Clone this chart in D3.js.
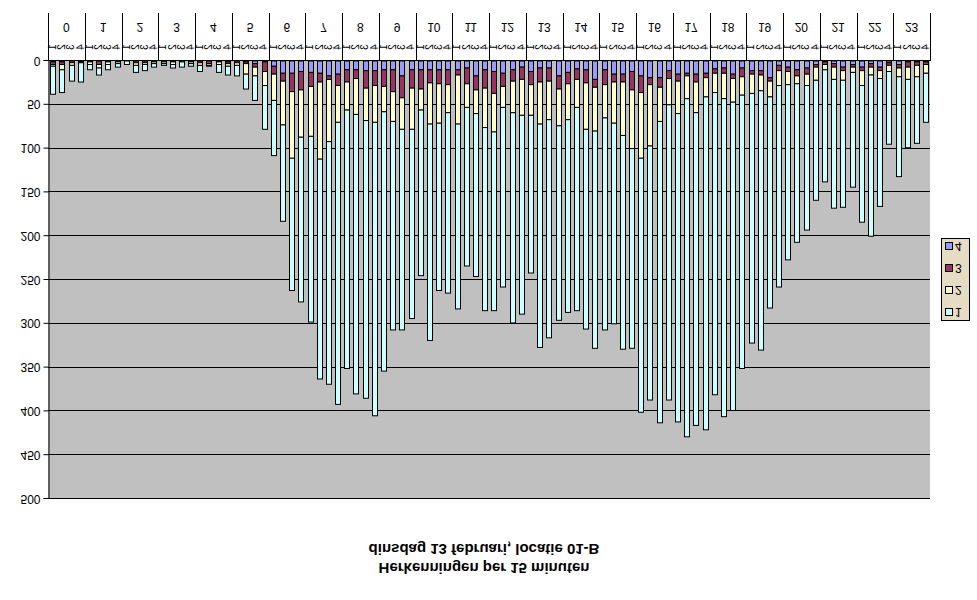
<!DOCTYPE html>
<html>
<head>
<meta charset="utf-8">
<script src="https://cdn.jsdelivr.net/npm/d3@7"></script>
<style>
  html, body { margin: 0; padding: 0; background: #fff; }
  svg { display: block; font-family: "Liberation Sans", Arial, sans-serif; }
</style>
</head>
<body>
<svg id="chart" width="977" height="600"></svg>
<script>
// ---- data ----
const hourLabels = ["0","1","2","3","4","5","6","7","8","9","10","11","12","13","14","15","16","17","18","19","20","21","22","23"];
const quarterLabels = ["1","2","3","4"];
const seriesNames = ["1","2","3","4"];
const yTicks = [0,50,100,150,200,250,300,350,400,450,500];

const s1 = [32,26,18,22,6,8,6,4,4,8,7,4,2,4,6,3,7,1,9,10,12,17,28,50,
            63,110,151,188,212,251,277,322,295,319,317,335,296,238,229,216,189,247,191,206,211,181,186,209,
            204,205,240,227,180,255,249,222,220,232,228,248,242,229,244,228,290,290,344,337,352,386,357,380,
            345,363,352,312,285,296,241,230,200,181,165,137,128,147,145,131,156,184,146,83,114,78,76,56];
const s2 = [2,6,3,1,3,4,3,2,0,3,2,2,2,3,1,2,3,2,3,3,3,12,10,16,
            30,50,76,54,57,88,71,42,32,41,37,42,29,34,36,47,24,47,45,32,56,27,27,45,
            44,24,36,41,35,48,44,42,41,32,53,50,38,47,61,67,75,70,39,30,37,26,35,22,
            22,29,27,21,22,18,18,17,15,9,13,15,6,14,11,6,17,9,9,7,10,14,13,10];
const s3 = [3,3,2,1,1,4,1,1,0,2,2,1,1,1,0,1,2,3,1,2,2,2,4,11,
            9,9,21,21,16,10,4,13,14,10,20,17,19,25,25,21,22,15,16,17,6,18,16,21,
            25,15,13,14,15,16,15,15,13,12,15,9,17,9,9,21,19,8,11,9,8,3,9,5,
            5,6,5,10,4,5,4,6,5,7,7,3,3,4,4,3,4,4,4,3,4,6,4,3];
const s4 = [1,1,0,0,0,0,0,0,0,0,0,0,0,0,0,0,0,0,0,1,0,1,3,1,
            6,14,14,12,13,14,17,15,10,10,11,11,10,10,17,10,10,10,10,10,10,8,17,10,
            12,14,10,7,12,8,8,17,13,9,10,21,10,15,15,12,17,19,19,11,15,14,15,14,
            9,8,15,8,11,11,19,5,7,10,8,4,1,3,7,4,7,3,7,2,4,1,1,1];

const colors = {"1":"#ccffff","2":"#ffffcc","3":"#993366","4":"#9999ff"};

(function () {
  // ---- build table ----
  const cats = [];
  hourLabels.forEach((h, hi) => quarterLabels.forEach((q, qi) => cats.push({key: h + "-" + q, hour: h, q: q, i: hi*4+qi})));
  const table = cats.map((c, i) => ({key: c.key, "1": s1[i], "2": s2[i], "3": s3[i], "4": s4[i]}));

  // ---- layout (drawn upright, then the whole picture is flipped vertically) ----
  const W = 977, H = 600;
  const pLeft = 48, pRight = 930, pTop = 101, pBottom = 539;

  const svg = d3.select("#chart");
  svg.append("rect").attr("width", W).attr("height", H).attr("fill", "#fff");
  const g = svg.append("g").attr("transform", `translate(0,${H}) scale(1,-1)`);

  const x = d3.scaleBand().domain(cats.map(c => c.key)).range([pLeft, pRight]).paddingInner(0.5).paddingOuter(0.25);
  const y = d3.scaleLinear().domain([0, 500]).range([pBottom, pTop]);

  // plot background
  g.append("rect").attr("x", pLeft).attr("y", pTop).attr("width", pRight - pLeft).attr("height", pBottom - pTop).attr("fill", "#c0c0c0");

  // gridlines
  g.append("g").selectAll("line").data(yTicks).join("line")
    .attr("x1", pLeft).attr("x2", pRight)
    .attr("y1", d => Math.round(y(d)) + 0.5).attr("y2", d => Math.round(y(d)) + 0.5)
    .attr("stroke", "#000").attr("stroke-width", 1);

  // stacked bars: series 4 next to the axis, then 3, 2, 1
  const stack = d3.stack().keys(["4","3","2","1"]);
  const layers = stack(table);
  g.append("g").selectAll("g").data(layers).join("g")
    .attr("fill", d => colors[d.key])
    .selectAll("rect").data(d => d).join("rect")
    .attr("x", d => Math.round(x(d.data.key)) + 0.5)
    .attr("width", Math.round(x.bandwidth()))
    .attr("y", d => y(d[1]))
    .attr("height", d => Math.max(0, y(d[0]) - y(d[1])))
    .attr("stroke", "#000").attr("stroke-width", 1);

  // value axis
  const yAxis = g.append("g").attr("transform", `translate(${pLeft + 0.5},0)`)
    .call(d3.axisLeft(y).tickValues(yTicks).tickSize(5).tickPadding(3));
  yAxis.select(".domain").attr("stroke", "#000");
  yAxis.selectAll("text").attr("font-size", 12).attr("font-family", "Liberation Sans, Arial, sans-serif").attr("fill", "#000");

  // category axis line
  g.append("line").attr("x1", pLeft).attr("x2", pRight).attr("y1", pBottom + 0.5).attr("y2", pBottom + 0.5).attr("stroke", "#000");

  // hour group separators
  const step = x.step();
  const sepX = d3.range(0, 25).map(i => pLeft + i * 4 * step);
  g.append("g").selectAll("line").data(sepX).join("line")
    .attr("x1", d => Math.round(d) + 0.5).attr("x2", d => Math.round(d) + 0.5)
    .attr("y1", pBottom).attr("y2", 587)
    .attr("stroke", "#000");

  // quarter labels (rotated)
  g.append("g").selectAll("text").data(cats).join("text")
    .attr("transform", d => `translate(${x(d.key) + x.bandwidth() / 2},553) rotate(-90)`)
    .attr("text-anchor", "middle").attr("dy", "0.35em")
    .attr("font-size", 10).attr("fill", "#000")
    .text(d => d.q);

  // hour labels
  g.append("g").selectAll("text").data(hourLabels).join("text")
    .attr("x", (d, i) => pLeft + (i * 4 + 2) * step)
    .attr("y", 573).attr("dy", "0.35em")
    .attr("text-anchor", "middle").attr("font-size", 12).attr("fill", "#000")
    .text(d => d);

  // legend
  const lg = g.append("g");
  lg.append("rect").attr("x", 941.5).attr("y", 279.5).attr("width", 28).attr("height", 82)
    .attr("fill", "#e6dcc3").attr("stroke", "#000");
  seriesNames.forEach((s, i) => {
    const cy = 288 + i * 22;
    lg.append("rect").attr("x", 945.5).attr("y", cy - 3.5).attr("width", 7).attr("height", 7)
      .attr("fill", colors[s]).attr("stroke", "#000");
    lg.append("text").attr("x", 955).attr("y", cy).attr("dy", "0.35em")
      .attr("font-size", 12).attr("fill", "#000").text(s);
  });

  // titles
  g.append("text").attr("x", 484).attr("y", 32).attr("dy", "0.35em").attr("text-anchor", "middle")
    .attr("font-size", 15).attr("font-weight", "bold").attr("fill", "#000")
    .text("Herkenningen per 15 minuten");
  g.append("text").attr("x", 484).attr("y", 51).attr("dy", "0.35em").attr("text-anchor", "middle")
    .attr("font-size", 15).attr("font-weight", "bold").attr("fill", "#000")
    .text("dinsdag 13 februari, locatie 01-B");
})();
</script>
</body>
</html>
